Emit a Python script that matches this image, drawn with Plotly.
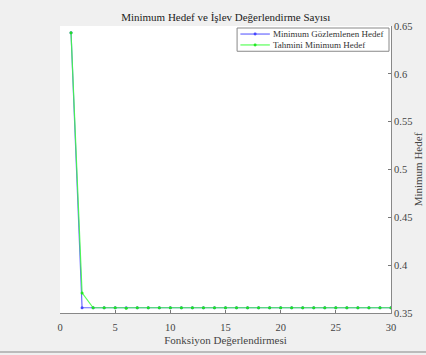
import plotly.graph_objects as go

evals = list(range(1, 31))
observed_min = [0.643] + [0.3555] * 29
estimated_min = [0.643, 0.371, 0.3555, 0.3555, 0.3555, 0.3550] + [0.3555] * 24

title_text = "Minimum Hedef ve İşlev Değerlendirme Sayısı"
x_title = "Fonksiyon Değerlendirmesi"
y_title = "Minimum Hedef"
x_ticks = [0, 5, 10, 15, 20, 25, 30]
y_ticks = [0.35, 0.4, 0.45, 0.5, 0.55, 0.6, 0.65]
legend_names = ["Minimum Gözlemlenen Hedef", "Tahmini Minimum Hedef"]
colors = ["rgba(80,80,255,0.85)", "rgba(60,255,60,0.85)"]
marker_colors = ["rgba(60,60,255,0.9)", "rgba(30,230,30,0.95)"]

font = "Liberation Serif"

fig = go.Figure()
for yv, nm, c, mc in zip([observed_min, estimated_min], legend_names, colors, marker_colors):
    fig.add_trace(go.Scatter(
        x=evals, y=yv, mode="lines+markers", name=nm, showlegend=False,
        line=dict(color=c, width=1.2), marker=dict(size=3, color=mc),
    ))

# manual compact legend (MATLAB style)
shapes = [
    dict(type="rect", xref="paper", yref="paper", x0=0.535, x1=0.994, y0=0.912, y1=0.993,
         fillcolor="#ffffff", line=dict(color="#888888", width=1)),
    dict(type="line", xref="paper", yref="paper", x0=-0.2, x1=1.2,
         y0=-0.136, y1=-0.136, line=dict(color="#aaaaaa", width=1.5)),
]
annotations = []
rows_y = [0.972, 0.934]
for i, (nm, c, mc) in enumerate(zip(legend_names, colors, marker_colors)):
    shapes.append(dict(type="line", xref="paper", yref="paper", x0=0.545, x1=0.634,
                       y0=rows_y[i], y1=rows_y[i], line=dict(color=c, width=1.2)))
    shapes.append(dict(type="circle", xref="paper", yref="paper",
                       x0=0.5895 - 0.0045, x1=0.5895 + 0.0045,
                       y0=rows_y[i] - 0.005, y1=rows_y[i] + 0.005,
                       fillcolor=mc, line=dict(width=0)))
    annotations.append(dict(text=nm, xref="paper", yref="paper", x=0.638, y=rows_y[i],
                            xanchor="left", yanchor="middle", showarrow=False,
                            font=dict(family=font, size=9, color="#333333")))

fig.update_layout(
    width=426, height=355,
    margin=dict(l=60, r=35, t=26, b=42, autoexpand=False),
    paper_bgcolor="#f0f0f0",
    plot_bgcolor="#ffffff",
    font=dict(family=font, size=10, color="#444444"),
    title=dict(text=title_text, x=0.53, xanchor="center", y=0.952, yanchor="middle",
               font=dict(family=font, size=11, color="#222222")),
    showlegend=False,
    shapes=shapes,
    annotations=annotations,
)
fig.update_xaxes(
    range=[0, 30], tickvals=x_ticks, ticks="inside", ticklen=3,
    tickcolor="#777777", showline=True, linecolor="#888888", linewidth=1,
    showgrid=False, zeroline=False, mirror=False, automargin=False,
    ticklabelstandoff=4,
    title=dict(text=x_title, standoff=4, font=dict(family=font, size=11, color="#444444")),
    tickfont=dict(family=font, size=10.5, color="#444444"),
)
fig.update_yaxes(
    range=[0.35, 0.65], tickvals=y_ticks, side="right", ticks="inside", ticklen=3,
    tickcolor="#777777", showline=True, linecolor="#888888", linewidth=1,
    showgrid=False, zeroline=False, automargin=False,
    title=dict(text=y_title, standoff=2, font=dict(family=font, size=11, color="#444444")),
    tickfont=dict(family=font, size=10.5, color="#444444"),
)

fig.write_html("out.html")
